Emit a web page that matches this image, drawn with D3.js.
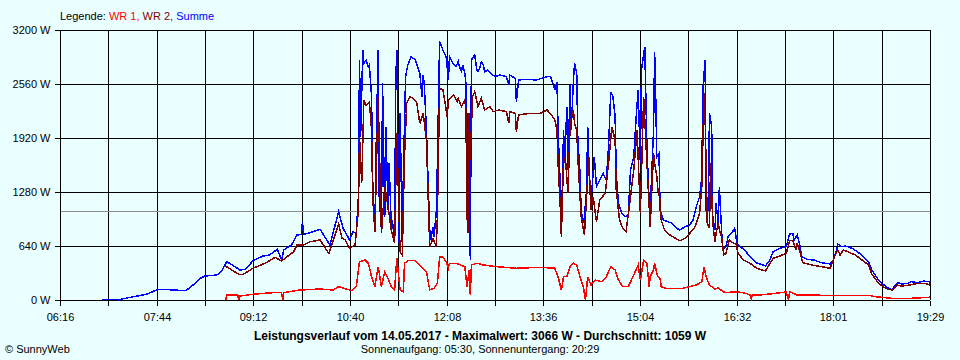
<!DOCTYPE html>
<html>
<head>
<meta charset="utf-8">
<script src="https://cdn.jsdelivr.net/npm/d3@7/dist/d3.min.js"></script>
<style>
  html, body { margin: 0; padding: 0; background: #eaffff; }
  svg { display: block; }
  text { font-family: "Liberation Sans", Arial, sans-serif; font-size: 11px; }
</style>
</head>
<body>
<svg id="chart" width="960" height="360"></svg>
<script>
// ---------------- DATA ----------------
const xTickLabels = ["06:16","07:44","09:12","10:40","12:08","13:36","15:04","16:32","18:01","19:29"];
const yTicks = [0, 640, 1280, 1920, 2560, 3200];
const average = 1059;
const maximum = 3066;
const dateLabel = "14.05.2017";
const sunrise = "05:30", sunset = "20:29";
const seriesNames = ["WR 1", "WR 2", "Summe"];

const summeTime = ["06:54","07:08","07:09","07:11","07:23","07:35","07:44","07:49","07:59","08:10","08:14","08:24","08:28","08:39","08:43","08:48","08:53","09:00","09:05","09:12","09:21","09:27","09:34","09:38","09:40","09:47","09:52","09:56","09:57","09:58","10:04","10:13","10:22","10:30","10:34","10:40","10:43","10:46","10:48","10:49","10:50","10:52","10:53","10:55","10:57","10:58","11:00","11:01","11:03","11:04","11:06","11:07","11:09","11:10","11:12","11:13","11:15","11:16","11:18","11:19","11:21","11:22","11:23","11:25","11:26","11:28","11:29","11:31","11:33","11:36","11:40","11:42","11:44","11:46","11:47","11:48","11:50","11:51","11:53","11:54","11:56","11:57","11:59","12:00","12:02","12:05","12:08","12:10","12:11","12:14","12:17","12:19","12:20","12:22","12:23","12:25","12:26","12:27","12:28","12:29","12:30","12:31","12:33","12:34","12:36","12:37","12:39","12:40","12:42","12:43","12:46","12:50","12:53","12:57","13:03","13:05","13:06","13:11","13:12","13:14","13:21","13:30","13:35","13:40","13:43","13:46","13:47","13:49","13:50","13:52","13:53","13:55","13:56","13:58","13:59","14:01","14:02","14:04","14:05","14:07","14:08","14:10","14:11","14:13","14:14","14:16","14:17","14:19","14:20","14:23","14:25","14:28","14:31","14:34","14:36","14:38","14:40","14:42","14:43","14:45","14:48","14:51","14:54","14:56","14:59","15:01","15:03","15:05","15:06","15:09","15:11","15:13","15:14","15:15","15:17","15:18","15:19","15:20","15:22","15:23","15:26","15:30","15:34","15:38","15:41","15:46","15:50","15:53","15:56","15:59","16:01","16:02","16:04","16:05","16:07","16:08","16:10","16:11","16:13","16:14","16:16","16:17","16:19","16:20","16:23","16:25","16:28","16:31","16:33","16:36","16:40","16:45","16:50","16:59","17:03","17:06","17:12","17:18","17:21","17:24","17:25","17:28","17:30","17:32","17:37","17:43","17:50","17:58","18:01","18:04","18:05","18:08","18:12","18:18","18:24","18:30","18:33","18:36","18:41","18:45","18:50","18:54","18:57","19:00","19:03","19:09","19:12","19:18","19:23","19:28","19:29"];
const summeW = [8,8,0,8,39,68,119,127,119,110,139,257,284,296,335,454,415,356,364,466,521,533,601,474,593,652,770,779,928,779,798,838,652,1047,850,711,810,790,1224,2844,1935,2963,2805,2844,2765,2785,2409,1422,830,1698,2963,1224,830,2568,987,2054,1067,1620,869,948,672,2568,2963,672,2213,672,1502,2647,2785,2884,2844,2765,2687,2409,2667,2568,2015,1620,830,711,869,750,1047,1620,3066,2963,2884,2607,2884,2805,2765,2825,2765,2706,2785,2687,2568,1146,2213,1620,474,2844,2884,2904,2726,2706,2765,2825,2785,2706,2726,2667,2647,2667,2647,2548,2667,2627,2350,2607,2616,2607,2627,2647,2647,2548,2489,2587,2015,1343,830,2015,1620,2291,1541,2548,2015,2607,2805,2687,1896,1502,1067,909,987,1304,2054,1304,1146,1698,1343,1422,1502,1422,1817,2469,2409,2172,1502,1146,1028,987,1007,1541,1698,2133,2489,1620,2726,3002,1817,1146,1067,1383,2015,2943,2409,1698,1739,1067,948,928,909,850,830,869,889,948,1106,1224,1461,2489,2844,1067,1067,2213,2054,987,830,1146,909,1343,830,593,632,750,790,850,672,632,593,513,445,403,474,572,613,632,782,790,711,770,672,513,482,474,442,427,474,593,664,632,640,613,561,494,454,356,257,198,151,119,166,205,190,198,217,205,225,217,198];

const wr2Time = ["08:47","08:59","09:03","09:12","09:24","09:32","09:38","09:43","09:49","09:52","09:58","10:04","10:13","10:21","10:30","10:33","10:36","10:40","10:45","10:48","10:49","10:51","10:53","10:55","10:58","11:00","11:01","11:03","11:06","11:09","11:12","11:15","11:18","11:21","11:23","11:26","11:28","11:30","11:32","11:35","11:38","11:41","11:44","11:47","11:50","11:53","11:56","11:59","12:00","12:02","12:05","12:09","12:10","12:15","12:18","12:19","12:22","12:25","12:26","12:27","12:28","12:29","12:30","12:32","12:34","12:37","12:40","12:43","12:48","12:51","12:56","13:03","13:05","13:06","13:11","13:12","13:14","13:24","13:34","13:40","13:44","13:47","13:49","13:50","13:52","13:53","13:55","13:57","13:59","14:01","14:04","14:05","14:07","14:08","14:10","14:11","14:14","14:16","14:18","14:20","14:22","14:25","14:28","14:33","14:36","14:39","14:42","14:43","14:46","14:49","14:52","14:56","14:59","15:02","15:05","15:08","15:11","15:14","15:15","15:17","15:18","15:20","15:21","15:23","15:24","15:27","15:32","15:37","15:41","15:46","15:50","15:55","15:59","16:01","16:03","16:04","16:06","16:08","16:09","16:11","16:13","16:14","16:16","16:17","16:19","16:21","16:23","16:26","16:30","16:32","16:34","16:39","16:45","16:51","16:59","17:06","17:12","17:18","17:21","17:24","17:27","17:28","17:30","17:33","17:41","17:50","17:58","18:02","18:05","18:07","18:10","18:14","18:21","18:27","18:33","18:36","18:41","18:46","18:51","18:55","18:59","19:03","19:11","19:18","19:24","19:29"];
const wr2W = [400,305,305,376,442,506,462,513,572,652,652,691,711,553,900,731,711,613,652,1067,1935,1383,2370,2311,2350,2015,1224,810,2409,790,1343,1106,830,672,1975,572,533,1698,2331,2409,2390,2350,2094,2213,1896,632,731,632,987,2509,2489,2172,2370,2430,2350,2390,2291,2370,2252,987,790,2213,1659,2409,2469,2291,2390,2252,2291,2232,2252,2232,2094,2232,2213,1995,2193,2213,2213,2252,2193,2133,2015,1620,1106,750,1698,1620,1264,2094,2252,2094,2015,1698,1224,987,770,1224,1698,1067,1224,928,1185,1264,1620,2054,1896,1304,948,850,810,1224,1541,2015,1028,2409,1620,870,1185,1739,1620,1461,1304,1185,948,830,770,731,703,731,790,869,1028,1343,2450,2172,909,850,1620,909,691,790,909,830,750,533,553,711,672,672,553,474,435,376,344,494,521,553,703,703,593,672,593,442,415,395,376,513,593,533,593,572,533,474,415,308,217,158,127,119,178,166,178,198,198,178];

const wr1Time = ["08:47","08:48","08:58","08:59","09:00","09:12","09:30","09:38","09:39","09:40","09:55","10:13","10:25","10:30","10:42","10:46","10:49","10:54","10:57","11:00","11:03","11:06","11:09","11:12","11:15","11:18","11:21","11:23","11:26","11:29","11:30","11:33","11:40","11:44","11:47","11:50","11:53","11:57","12:00","12:02","12:05","12:08","12:10","12:11","12:17","12:25","12:27","12:29","12:30","12:31","12:36","12:42","12:54","13:12","13:34","13:47","13:50","13:53","13:55","13:58","14:01","14:04","14:07","14:10","14:13","14:15","14:17","14:20","14:24","14:30","14:34","14:38","14:42","14:45","14:49","14:54","14:59","15:03","15:05","15:08","15:11","15:13","15:14","15:17","15:18","15:20","15:21","15:23","15:24","15:28","15:44","15:50","15:56","16:01","16:03","16:05","16:08","16:13","16:16","16:22","16:33","16:40","16:45","16:46","16:47","16:54","17:08","17:18","17:20","17:21","17:23","17:28","17:50","18:33","18:39","18:54","19:12","19:28","19:29"];
const wr1W = [0,59,59,0,47,68,87,87,0,87,119,130,119,158,110,158,454,474,435,276,158,395,158,335,257,158,119,494,119,98,435,466,466,415,376,335,119,139,198,513,506,454,380,435,435,395,158,356,59,415,435,415,395,376,388,376,276,119,276,276,395,435,415,276,158,0,276,178,237,217,276,395,356,237,158,158,296,415,237,474,435,158,276,356,435,316,276,257,158,139,139,158,178,217,388,276,178,130,142,87,98,83,59,12,59,59,79,95,0,95,87,59,56,56,39,20,20,32,40];

// ---------------- LAYOUT ----------------
const W = 960, H = 360;
const m = { left: 60, right: 930, top: 30, bottom: 300 };
const toMin = s => { const p = s.split(":").map(Number); return p[0] * 60 + p[1]; };

const svg = d3.select("#chart");
svg.append("rect").attr("width", W).attr("height", H).attr("fill", "#eaffff");

const x = d3.scaleLinear()
  .domain([toMin(xTickLabels[0]), toMin(xTickLabels[xTickLabels.length - 1])])
  .range([m.left, m.right]);
const y = d3.scaleLinear().domain([0, 3200]).range([m.bottom, m.top]);

const nSteps = (xTickLabels.length - 1) * 2;
const xTickVals = d3.range(nSteps + 1).map(k => x.domain()[0] + k * (x.domain()[1] - x.domain()[0]) / nSteps);

// grid
const grid = svg.append("g").attr("shape-rendering", "crispEdges").attr("stroke", "#000").attr("stroke-width", 1);
grid.selectAll("line.h").data(yTicks).join("line")
  .attr("x1", m.left).attr("x2", m.right)
  .attr("y1", d => Math.round(y(d)) + 0.5).attr("y2", d => Math.round(y(d)) + 0.5);
grid.selectAll("line.v").data(xTickVals).join("line")
  .attr("y1", m.top).attr("y2", m.bottom)
  .attr("x1", d => Math.round(x(d)) + 0.5).attr("x2", d => Math.round(x(d)) + 0.5);

// axes
const yAxis = d3.axisLeft(y).tickValues(yTicks).tickSize(6).tickPadding(4).tickFormat(d => d + " W");
const gy = svg.append("g").attr("transform", `translate(${m.left + 0.5},0.5)`).call(yAxis);
const xAxis = d3.axisBottom(x).tickValues(xTickVals).tickSize(5).tickPadding(8)
  .tickFormat((d, i) => i % 2 === 0 ? xTickLabels[i / 2] : "");
const gx = svg.append("g").attr("transform", `translate(0.5,${m.bottom + 0.5})`).call(xAxis);
[gx, gy].forEach(g => {
  g.select(".domain").remove();
  g.attr("font-family", null).attr("font-size", null);
  g.selectAll("line").attr("stroke", "#000").attr("shape-rendering", "crispEdges");
  g.selectAll("text").attr("fill", "#000");
});
gx.selectAll(".tick line").attr("transform", "translate(-0.5,0)");
gy.selectAll(".tick").attr("transform", d => `translate(0,${Math.round(y(d))})`);
gx.selectAll(".tick").attr("transform", d => `translate(${Math.round(x(d))},0)`);

// average line
svg.append("line").attr("shape-rendering", "crispEdges")
  .attr("x1", m.left + 1).attr("x2", m.right)
  .attr("y1", Math.round(y(average)) + 0.5).attr("y2", Math.round(y(average)) + 0.5)
  .attr("stroke", "#8c8c8c").attr("stroke-width", 1);

// series
const line = d3.line().x(d => x(d[0])).y(d => y(d[1]));
const series = [
  { t: summeTime, v: summeW, c: "#0000ff" },
  { t: wr2Time, v: wr2W, c: "#800000" },
  { t: wr1Time, v: wr1W, c: "#ff0000" }
];
series.forEach(s => {
  const pts = s.t.map((t, i) => [toMin(t), s.v[i]]);
  svg.append("path").datum(pts)
    .attr("d", line).attr("fill", "none")
    .attr("stroke", s.c).attr("stroke-width", 1.5)
    .attr("shape-rendering", "crispEdges");
});

// legend
const leg = svg.append("text").attr("x", 60).attr("y", 20);
leg.append("tspan").attr("fill", "#000").text("Legende: ");
leg.append("tspan").attr("fill", "#ff0000").text(seriesNames[0] + ", ");
leg.append("tspan").attr("fill", "#800000").text(seriesNames[1] + ", ");
leg.append("tspan").attr("fill", "#0000ff").text(seriesNames[2]);

// titles
svg.append("text").attr("x", 480).attr("y", 340).attr("text-anchor", "middle")
  .attr("font-weight", "bold").attr("fill", "#000").style("font-size", "12px")
  .text(`Leistungsverlauf vom ${dateLabel} - Maximalwert: ${maximum} W - Durchschnitt: ${average} W`);
svg.append("text").attr("x", 480).attr("y", 353).attr("text-anchor", "middle").attr("fill", "#000")
  .text(`Sonnenaufgang: ${sunrise}, Sonnenuntergang: ${sunset}`);
svg.append("text").attr("x", 5).attr("y", 353).attr("fill", "#000").text("© SunnyWeb");
</script>
</body>
</html>
